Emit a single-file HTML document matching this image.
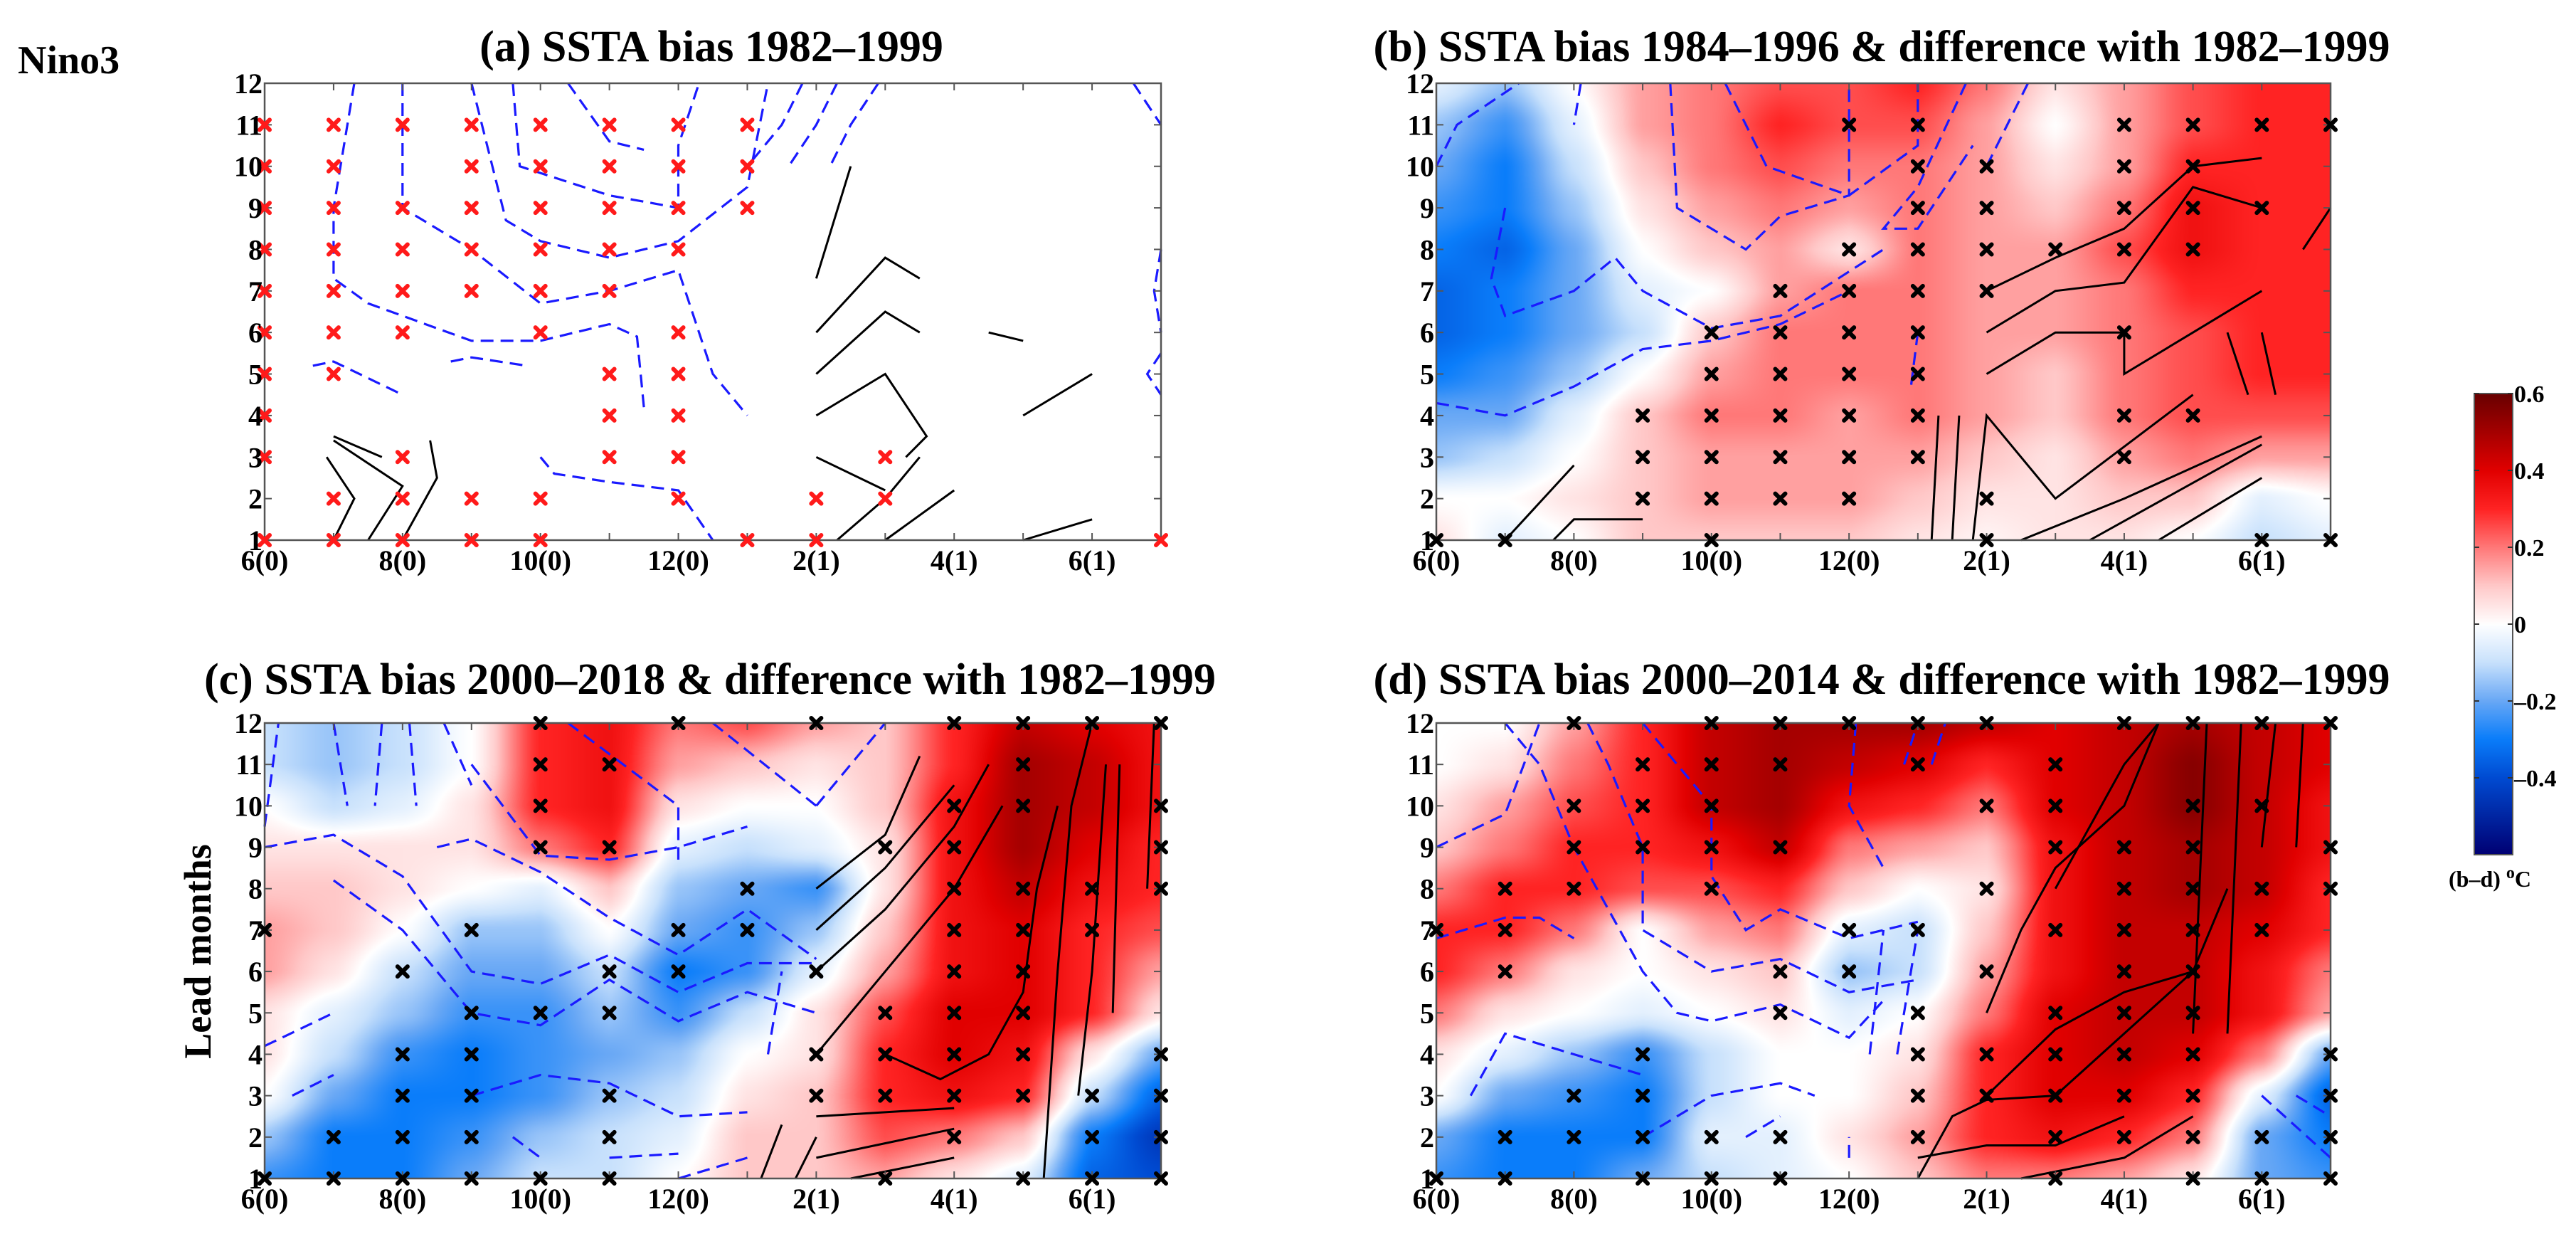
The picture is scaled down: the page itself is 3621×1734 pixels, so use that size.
<!DOCTYPE html>
<html><head><meta charset="utf-8">
<style>
html,body{margin:0;padding:0;background:#fff;}
body{width:3621px;height:1734px;position:relative;overflow:hidden;font-family:"Liberation Serif",serif;}
canvas{position:absolute;}
svg{position:absolute;left:0;top:0;}
text{font-family:"Liberation Serif",serif;font-weight:bold;fill:#000;}
</style></head>
<body>
<canvas id="cb"></canvas>
<canvas id="cc"></canvas>
<canvas id="cd"></canvas>
<canvas id="cbar"></canvas>
<svg id="ov" width="3621" height="1734"></svg>
<script>
// ---------- data ----------
const xTickLabels = ['6(0)','8(0)','10(0)','12(0)','2(1)','4(1)','6(1)'];
const xTickIdx = [0,2,4,6,8,10,12];
const yTickLabels = ['1','2','3','4','5','6','7','8','9','10','11','12'];
const cbarTicks = [0.6,0.4,0.2,0,-0.2,-0.4];
const cbarLabels = ['0.6','0.4','0.2','0','\u20130.2','\u20130.4'];
// rows: lead 12 (top) .. lead 1 (bottom); columns 6(0)..7(1)
const diffB = [
[-0.05,-0.15,0.0,0.15,0.2,0.25,0.25,0.3,0.2,0.05,0.15,0.25,0.3,0.3],
[-0.15,-0.25,-0.05,0.15,0.2,0.3,0.25,0.25,0.15,0.0,0.15,0.25,0.3,0.3],
[-0.2,-0.3,-0.1,0.1,0.2,0.25,0.2,0.2,0.15,0.05,0.15,0.3,0.3,0.3],
[-0.25,-0.3,-0.15,0.05,0.15,0.2,0.15,0.2,0.15,0.1,0.2,0.35,0.3,0.3],
[-0.3,-0.35,-0.2,0.0,0.1,0.15,0.05,0.2,0.15,0.15,0.25,0.35,0.3,0.3],
[-0.35,-0.3,-0.2,-0.05,0.0,0.15,0.2,0.2,0.15,0.15,0.2,0.3,0.3,0.3],
[-0.35,-0.3,-0.2,-0.1,0.1,0.2,0.2,0.2,0.15,0.15,0.2,0.25,0.3,0.3],
[-0.3,-0.25,-0.15,0.0,0.15,0.2,0.2,0.2,0.15,0.1,0.2,0.25,0.3,0.3],
[-0.2,-0.2,-0.05,0.1,0.2,0.2,0.15,0.2,0.15,0.1,0.2,0.25,0.25,0.25],
[-0.15,-0.1,0.0,0.1,0.15,0.15,0.15,0.15,0.1,0.05,0.15,0.2,0.15,0.15],
[0.0,0.0,0.05,0.1,0.15,0.15,0.15,0.1,0.05,0.05,0.1,0.1,-0.05,0.0],
[0.05,-0.05,0.0,0.1,0.1,0.1,0.1,0.05,0.02,0.05,0.05,0.0,-0.1,-0.05]];
const diffC = [
[-0.1,-0.15,-0.1,0.0,0.3,0.35,0.2,0.25,0.15,0.1,0.3,0.45,0.4,0.35],
[-0.1,-0.15,-0.1,0.0,0.3,0.35,0.15,0.1,0.05,0.1,0.3,0.5,0.45,0.35],
[0.0,-0.1,-0.05,0.05,0.3,0.35,0.05,0.0,0.0,0.1,0.35,0.5,0.45,0.35],
[0.05,0.05,0.05,0.05,0.2,0.3,-0.05,-0.1,-0.05,0.05,0.35,0.5,0.4,0.3],
[0.1,0.1,0.05,0.0,-0.05,0.1,-0.15,-0.2,-0.25,0.05,0.35,0.45,0.35,0.3],
[0.15,0.1,0.0,-0.15,-0.15,0.0,-0.2,-0.25,-0.15,0.1,0.35,0.4,0.3,0.25],
[0.15,0.05,-0.1,-0.2,-0.2,-0.1,-0.3,-0.25,-0.05,0.15,0.35,0.4,0.3,0.15],
[0.05,-0.05,-0.15,-0.25,-0.25,-0.15,-0.25,-0.1,0.05,0.25,0.4,0.4,0.3,0.05],
[0.05,-0.1,-0.25,-0.3,-0.25,-0.2,-0.15,0.0,0.05,0.3,0.4,0.35,0.05,-0.2],
[0.0,-0.2,-0.3,-0.3,-0.25,-0.15,-0.1,0.05,0.1,0.3,0.35,0.3,-0.1,-0.35],
[-0.15,-0.3,-0.3,-0.25,-0.15,-0.1,-0.05,0.1,0.1,0.25,0.2,0.1,-0.3,-0.45],
[-0.25,-0.3,-0.3,-0.2,-0.1,-0.1,0.0,0.1,0.1,0.15,0.05,-0.05,-0.35,-0.4]];
const diffD = [
[0.0,0.0,0.15,0.3,0.45,0.5,0.5,0.5,0.45,0.4,0.45,0.5,0.45,0.4],
[0.0,0.05,0.2,0.3,0.45,0.5,0.45,0.4,0.3,0.4,0.45,0.55,0.45,0.4],
[0.05,0.15,0.25,0.3,0.45,0.5,0.35,0.3,0.2,0.4,0.45,0.55,0.45,0.35],
[0.1,0.2,0.3,0.3,0.35,0.45,0.2,0.15,0.1,0.35,0.45,0.5,0.45,0.35],
[0.2,0.3,0.3,0.25,0.25,0.3,0.1,0.0,0.05,0.35,0.45,0.5,0.45,0.3],
[0.3,0.3,0.2,0.0,0.15,0.2,-0.05,-0.1,0.1,0.35,0.45,0.45,0.4,0.3],
[0.3,0.2,0.05,0.0,0.05,0.1,-0.15,-0.1,0.15,0.35,0.45,0.45,0.35,0.2],
[0.2,0.05,0.0,-0.05,0.0,0.05,-0.05,0.0,0.2,0.4,0.45,0.45,0.35,0.15],
[0.05,-0.05,-0.15,-0.25,-0.1,0.0,0.0,0.05,0.3,0.4,0.45,0.4,0.2,-0.2],
[0.0,-0.2,-0.25,-0.3,-0.1,0.0,0.0,0.1,0.3,0.4,0.4,0.3,-0.05,-0.35],
[-0.2,-0.3,-0.3,-0.3,-0.05,-0.05,0.05,0.15,0.3,0.35,0.3,0.2,-0.2,-0.3],
[-0.25,-0.3,-0.3,-0.2,-0.1,-0.05,0.0,0.1,0.2,0.2,0.15,0.05,-0.2,-0.25]];
// significance markers: lead -> column indices
const sigA = {11:[0,1,2,3,4,5,6,7],10:[0,1,3,4,5,6,7],9:[0,1,2,3,4,5,6,7],8:[0,1,2,3,4,5,6],7:[0,1,2,3,4,5],6:[0,1,2,4,6],5:[0,1,5,6],4:[0,5,6],3:[0,2,5,6,9],2:[1,2,3,4,6,8,9],1:[0,1,2,3,4,7,8,13]};
const sigB = {11:[6,7,10,11,12,13],10:[7,8,10,11],9:[7,8,10,11,12],8:[6,7,8,9,10,11],7:[5,6,7,8],6:[4,5,6,7,10],5:[4,5,6,7],4:[3,4,5,6,7,10,11],3:[3,4,5,6,7,10],2:[3,4,5,6,8],1:[0,1,4,8,12,13]};
const sigC = {12:[4,6,8,10,11,12,13],11:[4,5,11],10:[4,10,11,13],9:[4,5,9,10,13],8:[7,10,11,12,13],7:[0,3,6,7,10,11,12],6:[2,5,6,8,10,11],5:[3,4,5,9,10,11],4:[2,3,8,9,10,11,13],3:[2,3,5,8,9,10,11,12,13],2:[1,2,3,5,10,12,13],1:[0,1,2,3,4,5,9,11,12,13]};
const sigD = {12:[2,4,5,6,7,8,10,11,12,13],11:[3,4,5,7,9],10:[2,3,4,8,9,11,12],9:[2,3,4,5,9,10,11,13],8:[1,2,4,8,10,11,12,13],7:[0,1,6,7,9,10,11,12],6:[1,5,6,8,10,11],5:[5,7,9,10,11],4:[3,7,8,9,10,11,13],3:[2,3,7,8,9,10,11,13],2:[1,2,3,4,5,7,9,10,11,12,13],1:[0,1,3,4,5,9,11,12,13]};
// contour lines (month index, lead) : [x,y,...]
const contA_neg = [
[1.3,12,1,9,1,7.3,1.5,6.7,3,5.8,4,5.8,5,6.2,5.4,5.9,5.5,4.2],
[2,12,2,9,3,8,4,6.7,5,7,6,7.5,6.5,5,7,4],
[3,12,3.5,8.7,4,8.2,5,7.8,6,8.2,7,9.5,7.3,12],
[3.6,12,3.7,10,5,9.3,6,9,6,10.5,6.3,12],
[4.4,12,5,10.6,5.5,10.4],
[7.8,12,7.5,11,7,10],[8.3,12,8,11,7.6,10],[8.9,12,8.5,11,8.2,10],
[4,3,4.2,2.6,5,2.4,6,2.2,6.5,1],
[0.7,5.2,1,5.3,2,4.5],[2.7,5.3,3,5.4,3.8,5.2],
[12.6,12,13,11],[13,8,12.9,7,13,6],[13,5.5,12.8,5,13,4.5]];
const contA_pos = [
[8,7.3,8.5,10],[8,6,9,7.8,9.5,7.3],[8,5,9,6.5,9.5,6],[8,4,9,5,9.6,3.5,9.3,3],
[8,3,9,2.2],[8.3,1,9,2,9.5,3],[9,1,10,2.2],[11,1,12,1.5],[10.5,6,11,5.8],[11,4,12,5],
[1,1,1.3,2,0.9,3],[1.5,1,2,2.3,1,3.4],[2,1,2.5,2.5,2.4,3.4],[1,3.5,1.7,3]];
const contB_neg = [
[0,10,0.3,11,1.2,12],[2.1,12,2,11],[1,9,0.8,7.3,1,6.4,2,7,2.6,7.8,3,7,4,6.1,5,6.4,6.5,8],
[0,4.3,1,4,2,4.7,3,5.6,4,5.8,5,6.2,6,7],[3.4,12,3.5,9,4.5,8,5,8.8,6,9.3,6,12],
[4.2,12,4.8,10,6,9.3,7,10.5,7,12],[7.7,12,7,9.5,6.5,8.5,7,8.5,7.8,10.5],[8.6,12,8,10],[7,6,6.9,4.7]];
const contB_pos = [
[8,6,9,7,10,7.2,11,9.5,12,9],[8,5,9,6,10,6,10,5,11,6,12,7],[8,7,9,7.8,10,8.5,11,10,12,10.2],
[7.2,1,7.3,4],[7.5,1,7.6,4],[7.8,1,8,4,9,2,11,4.5],[8.5,1,10,2,12,3.5],[9.5,1,12,3.3],[10.5,1,12,2.5],
[1,1,2,2.8],[1.7,1,2,1.5,3,1.5],[11.5,6,11.8,4.5],[12,6,12.2,4.5],[12.6,8,13,9]];
const contC_neg = [
[0,9.5,0.2,12],[1,12,1.2,10],[1.7,12,1.6,10],[2.1,12,2.2,10],[2.6,12,3,10.5],
[0,9,1,9.3,2,8.3,3,6,4,5.7,5,6.4,6,5.5,7,6.2,8,6.2],[1,8.2,2,7,3,5,4,4.7,5,5.8,6,4.8,7,5.5,8,5],
[2.5,9,3,9.2,4,8.4,5,7.3,6,6.4,7,7.5,8,6.3],[3,11,4,8.8,5,8.7,6,9,7,9.5],[4.4,12,6,10,6,8.7],[6.5,12,8,10],
[0,4.2,1,5],[0.4,3,1,3.5],[3,3,4,3.5,5,3.3,6,2.5,7,2.6],[3.6,2,4,1.5],[5,1.5,6,1.6],[6,1,7,1.5],[7.3,4,7.5,6],[8,10,9,12]];
const contC_pos = [
[8,8,9,9.3,9.5,11.2],[8,7,9,8.5,10,10.5],[8,6,9,7.5,10,9.5,10.5,11],[8,4,9,6,10,8,10.7,10],
[9,4,9.8,3.4,10.5,4,11,5.5,11.2,8,11.5,10],[11.3,1,11.5,6,11.7,10,12,12],[11.8,3,12,6,12.2,11],[12.3,5,12.4,11],[12.8,8,12.9,12],
[8,2.5,10,2.7],[8,1.5,10,2.2],[7.2,1,7.5,2.3],[7.7,1,8,2],[8.5,1,10,1.5]];
const contD_neg = [
[0,9,1,9.8,1.5,12],[1,12,1.5,11,2,9,3,6,3.5,5,4,4.8,5,5.2,6,4.4,6.5,5.3],[2.2,12,2.5,11,3,9,3,7,4,6,5,6.3,6,5.5,7,5.8],
[3,12,4,10,4,8.3,4.5,7,5,7.5,6,6.8,7,7.2],[0,6.8,1,7.3,1.5,7.3,2,6.8],[0.5,3,1,4.5,2,4,3,3.5],
[3,2,4,3,5,3.3,5.5,3],[6,1.5,6,2],[4.5,2,5,2.5],[6.1,12,6,10,6.5,8.5],[6.8,11,7,12],[7.2,11,7.4,12],[6.3,4,6.5,7],[6.7,4,7,7],[12,3,13,1.5],[12.5,3,13,2.5]];
const contD_pos = [
[8,5,8.5,7,9,8.5,10,10,10.5,12],[9,8,10,11,10.5,12],[8,3,9,4.6,10,5.5,11,6,11.5,8],[7,1,7.5,2.5,8,2.9,9,3,10,4.5,11,6],
[7,1.5,8,1.8,9,1.8,10,2.5],[11,4.5,11.2,12],[11.5,4.5,11.7,12],[12,9,12.2,12],[12.5,9,12.6,12],[8.5,1,10,1.5,11,2.5]];

// ---------- layout ----------
const panels = [
 {id:'a', left:372, top:117, w:1260, h:642, field:null, sig:sigA, neg:contA_neg, pos:contA_pos, mcol:'#ff1a1a', title:'(a) SSTA bias 1982\u20131999', tx:1000, ty:86},
 {id:'b', left:2019, top:117, w:1257, h:642, field:diffB, sig:sigB, neg:contB_neg, pos:contB_pos, mcol:'#000', title:'(b) SSTA bias 1984\u20131996 & difference with 1982\u20131999', tx:2645, ty:86},
 {id:'c', left:372, top:1016, w:1260, h:640, field:diffC, sig:sigC, neg:contC_neg, pos:contC_pos, mcol:'#000', title:'(c) SSTA bias 2000\u20132018 & difference with 1982\u20131999', tx:998, ty:975},
 {id:'d', left:2019, top:1016, w:1257, h:640, field:diffD, sig:sigD, neg:contD_neg, pos:contD_pos, mcol:'#000', title:'(d) SSTA bias 2000\u20132014 & difference with 1982\u20131999', tx:2645, ty:975}
];
const stops=[[-0.6,[0,0,115]],[-0.4,[0,75,210]],[-0.3,[10,125,250]],[-0.2,[105,168,245]],[-0.1,[200,225,252]],[0,[255,255,255]],
 [0.1,[255,200,200]],[0.2,[255,120,120]],[0.3,[255,35,35]],[0.4,[225,0,0]],[0.6,[105,0,0]]];
function cmap(v){
  if(v<=stops[0][0]) return stops[0][1];
  for(let i=1;i<stops.length;i++){ if(v<=stops[i][0]){const a=stops[i-1],b=stops[i];const t=(v-a[0])/(b[0]-a[0]);
    return [0,1,2].map(k=>Math.round(a[1][k]+(b[1][k]-a[1][k])*t));}}
  return stops[stops.length-1][1];
}
function sampleField(f,gx,gy){
  const i=Math.min(12,Math.floor(gx)), j=Math.min(10,Math.floor(gy));
  const tx=gx-i, ty=gy-j;
  const sx=tx*tx*(3-2*tx)*0.5+tx*0.5, sy=ty*ty*(3-2*ty)*0.5+ty*0.5;
  const a=f[j][i],b=f[j][i+1],c=f[j+1][i],d=f[j+1][i+1];
  return a*(1-sx)*(1-sy)+b*sx*(1-sy)+c*(1-sx)*sy+d*sx*sy;
}
panels.forEach(p=>{
  if(!p.field) return;
  const cv=document.getElementById('c'+p.id);
  cv.width=p.w; cv.height=p.h; cv.style.left=p.left+'px'; cv.style.top=p.top+'px';
  const ctx=cv.getContext('2d'); const im=ctx.createImageData(p.w,p.h);
  for(let y=0;y<p.h;y++) for(let x=0;x<p.w;x++){
    const v=sampleField(p.field,x/(p.w-1)*13,y/(p.h-1)*11);
    const c=cmap(v); const k=(y*p.w+x)*4; im.data[k]=c[0];im.data[k+1]=c[1];im.data[k+2]=c[2];im.data[k+3]=255;
  }
  ctx.putImageData(im,0,0);
});
const cbX=3478, cbTop=553, cbW=54, cbH=648, cbMax=0.6, cbMin=-0.6;
(function(){
  const cv=document.getElementById('cbar'); cv.width=cbW; cv.height=cbH; cv.style.left=cbX+'px'; cv.style.top=cbTop+'px';
  const ctx=cv.getContext('2d');
  for(let y=0;y<cbH;y++){const v=cbMax-(cbMax-cbMin)*y/(cbH-1);const c=cmap(v);ctx.fillStyle='rgb('+c.join(',')+')';ctx.fillRect(0,y,cbW,1);}
})();
const NS='http://www.w3.org/2000/svg';
const svg=document.getElementById('ov');
function el(tag,attrs,parent){const e=document.createElementNS(NS,tag);for(const k in attrs)e.setAttribute(k,attrs[k]);(parent||svg).appendChild(e);return e;}
function txt(s,attrs,parent){const e=el('text',attrs,parent);e.textContent=s;return e;}

panels.forEach(p=>{
  const g=el('g',{});
  
  
  const X=v=>p.left+v/13*p.w, Y=v=>p.top+p.h-(v-1)/11*p.h;
  const cg=el('g',{},g);
  
  
  p.neg.forEach(arr=>{let d='';for(let i=0;i<arr.length;i+=2)d+=(i?'L':'M')+X(arr[i]).toFixed(1)+','+Y(arr[i+1]).toFixed(1);
    const l=el('path',{d:d,fill:'none',stroke:'#1a1aff','stroke-width':3.2,'stroke-dasharray':'18,10'},cg);
    
    });
  p.pos.forEach(arr=>{let d='';for(let i=0;i<arr.length;i+=2)d+=(i?'L':'M')+X(arr[i]).toFixed(1)+','+Y(arr[i+1]).toFixed(1);
    const l=el('path',{d:d,fill:'none',stroke:'#000','stroke-width':3},cg);
    
    });
  const fr=el('rect',{x:p.left,y:p.top,width:p.w,height:p.h,fill:'none',stroke:'#555','stroke-width':2.5},g);
  
  
  for(let m=0;m<=13;m++){el('line',{x1:X(m),x2:X(m),y1:p.top+p.h,y2:p.top+p.h-10,stroke:'#555','stroke-width':2},g);el('line',{x1:X(m),x2:X(m),y1:p.top,y2:p.top+10,stroke:'#555','stroke-width':2},g);}
  for(let l=1;l<=12;l++){el('line',{x1:p.left,x2:p.left+10,y1:Y(l),y2:Y(l),stroke:'#555','stroke-width':2},g);el('line',{x1:p.left+p.w,x2:p.left+p.w-10,y1:Y(l),y2:Y(l),stroke:'#555','stroke-width':2},g);}
  const mg=el('g',{},g);
  
  
  Object.keys(p.sig).forEach(lead=>{p.sig[lead].forEach(c=>{
    const cx=X(c), cy=Y(+lead), s=7;
    const m=el('path',{d:`M${cx-s},${cy-s}L${cx+s},${cy+s}M${cx+s},${cy-s}L${cx-s},${cy+s}`,stroke:p.mcol,'stroke-width':6,'stroke-linecap':'round'},mg);
    
    
  });});
  xTickIdx.forEach((m,i)=>{const t=txt(xTickLabels[i],{x:X(m),y:p.top+p.h+42,'text-anchor':'middle','font-size':40},g);
    
    });
  yTickLabels.forEach((s,i)=>{const t=txt(s,{x:p.left-3,y:Y(i+1)+14,'text-anchor':'end','font-size':40},g);
    
    });
  const tt=txt(p.title,{x:p.tx,y:p.ty,'text-anchor':'middle','font-size':62},g);
  
  
});
const cbg=el('g',{});


el('rect',{x:cbX,y:cbTop,width:cbW,height:cbH,fill:'none',stroke:'#555','stroke-width':2},cbg);
cbarTicks.forEach((v,i)=>{const y=cbTop+(cbMax-v)/(cbMax-cbMin)*cbH;
  el('line',{x1:cbX,x2:cbX+7,y1:y,y2:y,stroke:'#333','stroke-width':2},cbg);
  el('line',{x1:cbX+cbW,x2:cbX+cbW-7,y1:y,y2:y,stroke:'#333','stroke-width':2},cbg);
  const t=txt(cbarLabels[i],{x:cbX+cbW+2,y:y+12,'font-size':34},cbg);
  
  });
</script>
<svg width="3621" height="1734" style="position:absolute;left:0;top:0">
<text x="25" y="103" font-size="56">Nino3</text>
<text x="0" y="0" font-size="54" text-anchor="middle" transform="translate(296,1337) rotate(-90)">Lead months</text>
<text x="3500" y="1246" font-size="32" text-anchor="middle">(b–d) <tspan dy="-12" font-size="24">o</tspan><tspan dy="12">C</tspan></text>
</svg>
</body></html>
